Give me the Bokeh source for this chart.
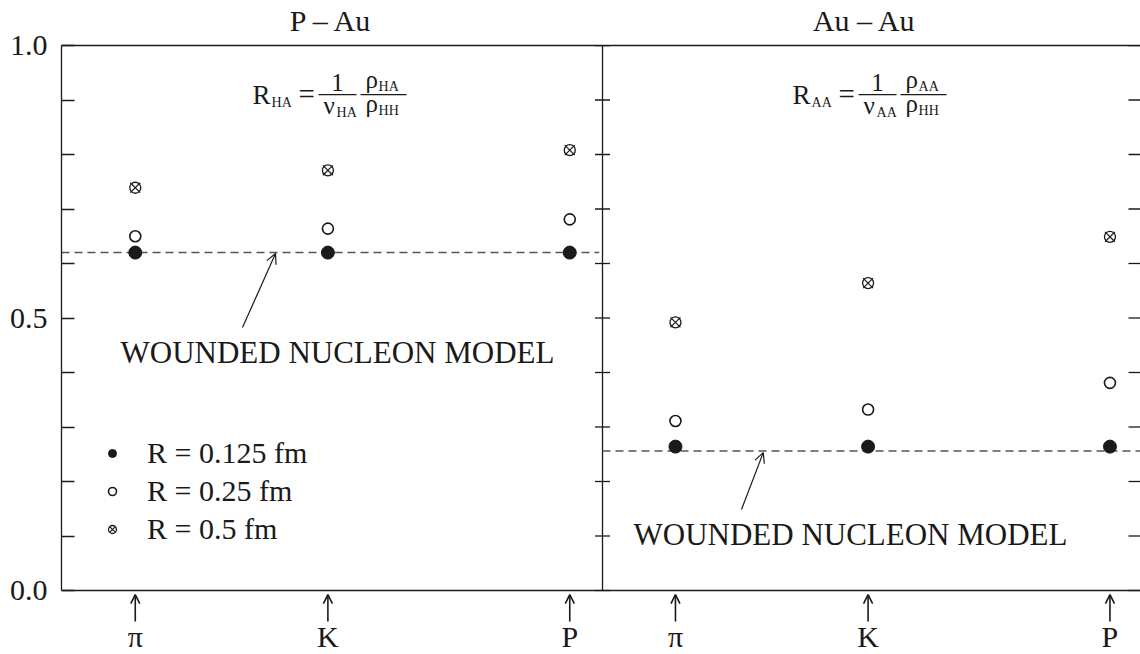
from bokeh.plotting import figure
from bokeh.models import (Range1d, FixedTicker, LabelSet, Arrow, OpenHead, Span,
                          Legend, LegendItem, ColumnDataSource, LinearAxis, PrintfTickFormatter)
from bokeh.embed import file_html
from bokeh.resources import INLINE
from bokeh.core.properties import value

# ---------------- data ----------------
particles = ["π", "K", "P"]
mass_gev = [0.1396, 0.4937, 0.9383]          # x position of each hadron (mass, GeV)

pau_r0125 = [0.620, 0.620, 0.620]
pau_r025 = [0.650, 0.664, 0.681]
pau_r05 = [0.739, 0.771, 0.808]
pau_wounded = 0.620

auau_r0125 = [0.264, 0.264, 0.264]
auau_r025 = [0.311, 0.332, 0.381]
auau_r05 = [0.492, 0.564, 0.649]
auau_wounded = 0.256

panel_titles = ["P – Au", "Au – Au"]
formula_subs = [("HA", "HA", "HA", "HH"), ("AA", "AA", "AA", "HH")]
legend_labels = ["R = 0.125 fm", "R = 0.25 fm", "R = 0.5 fm"]
model_label = "WOUNDED NUCLEON MODEL"
y_major = [0.0, 0.5, 1.0]
y_minor = [0.1, 0.2, 0.3, 0.4, 0.6, 0.7, 0.8, 0.9]

# ---------------- layout ----------------
FONT = "Liberation Serif"
INK = "#1a1a1a"
PX = 544.0                    # pixels per x unit
FH = 545.0                    # pixels per y unit
X0 = 0.004
FRAME_W = 1079
X1 = X0 + FRAME_W / PX
XD = X0 + 541 / PX            # divider between panels
OFF = 0.993                   # shift of the Au-Au panel
YB = -64 / FH                 # room below the axis for the hadron arrows
TITLE_X = [0.50, 1.48]

p = figure(width=1140, height=654, output_backend="svg", toolbar_location=None,
           x_range=Range1d(X0, X1), y_range=Range1d(YB, 1), title=None,
           min_border_left=61, min_border_right=0, min_border_top=45, min_border_bottom=0,
           x_axis_type=None, y_axis_type=None)
p.outline_line_color = None
p.xgrid.visible = False
p.ygrid.visible = False
p.background_fill_color = "white"
p.border_fill_color = "white"

ticker = FixedTicker(ticks=y_major, minor_ticks=y_minor)

left = LinearAxis(ticker=ticker, formatter=PrintfTickFormatter(format="%.1f"), bounds=(0, 1))
left.major_tick_in = 13
left.major_tick_out = 0
left.minor_tick_in = 13
left.minor_tick_out = 0
left.axis_line_color = INK
left.major_tick_line_color = INK
left.minor_tick_line_color = INK
left.axis_line_width = 1.3
left.major_tick_line_width = 1.3
left.minor_tick_line_width = 1.3
left.major_label_text_font = FONT
left.major_label_text_font_size = "30px"
left.major_label_text_color = INK
left.major_label_standoff = 14
p.add_layout(left, "left")

# top border carrying the panel titles
top = LinearAxis(ticker=FixedTicker(ticks=TITLE_X),
                 major_label_overrides={TITLE_X[0]: panel_titles[0], TITLE_X[1]: panel_titles[1]})
top.axis_line_color = INK
top.axis_line_width = 1.3
top.major_tick_out = 0
top.major_tick_in = 0
top.minor_tick_out = 0
top.minor_tick_in = 0
top.major_label_text_font = FONT
top.major_label_text_font_size = "30px"
top.major_label_text_color = INK
top.major_label_standoff = 9
p.add_layout(top, "above")

# bottom border, divider between the panels (ticks on both sides), ticks at the right edge
all_ticks = y_major + y_minor
p.add_layout(Span(location=0, dimension="width", line_color=INK, line_width=1.3))
p.line([XD, XD], [0, 1], line_color=INK, line_width=1.3)
p.scatter(x=[XD] * len(all_ticks), y=all_ticks, marker="dash", size=15, line_color=INK, line_width=1.3)
p.scatter(x=[X1] * len(all_ticks), y=all_ticks, marker="dash", size=24, line_color=INK, line_width=1.3)

# wounded nucleon model lines
p.line([X0, XD - 0.006], [pau_wounded, pau_wounded], line_dash="8 5", line_color="#555555", line_width=1.5)
p.line([XD, X1], [auau_wounded, auau_wounded], line_dash="8 5", line_color="#555555", line_width=1.5)

# data points (both panels)
xs = mass_gev + [m + OFF for m in mass_gev]
src = ColumnDataSource(dict(x=xs,
                            r0125=pau_r0125 + auau_r0125,
                            r025=pau_r025 + auau_r025,
                            r05=pau_r05 + auau_r05))
g1 = p.scatter("x", "r0125", source=src, marker="circle", size=13, fill_color=INK, line_color=INK)
g2 = p.scatter("x", "r025", source=src, marker="circle", size=11, fill_color="white",
               line_color=INK, line_width=1.6)
g3a = p.scatter("x", "r05", source=src, marker="circle", size=11, fill_color="white",
                line_color=INK, line_width=1.3)
g3b = p.scatter("x", "r05", source=src, marker="x", size=14, line_color=INK, line_width=1.2)

legend = Legend(items=[LegendItem(label=legend_labels[0], renderers=[g1]),
                       LegendItem(label=legend_labels[1], renderers=[g2]),
                       LegendItem(label=legend_labels[2], renderers=[g3a, g3b])],
                location=(41, 106), orientation="vertical",
                border_line_color=None, background_fill_alpha=0, padding=0, margin=0,
                glyph_width=20, glyph_height=38, label_height=38, spacing=0,
                label_standoff=25, label_text_font=FONT, label_text_font_size="30px",
                label_text_color=INK)
p.add_layout(legend)

# formulas
YF = 0.910                    # level of the fraction bars


def formula(xa, subs):
    s_r, s_nu, s_num, s_den = subs
    # text, dx (px from start), baseline (px below the bar), font size, alignment
    t = ["R", s_r, "=", "1", "ν", s_nu, "ρ", s_num, "ρ", s_den]
    dx = [0, 19, 46, 85, 71, 84, 113, 126, 113, 126]
    dy = [9, 12, 9, -4, 19, 22, -7, -4, 17, 20]
    fs = ["27px", "14px", "29px", "25px", "25px", "14px", "25px", "14px", "25px", "14px"]
    al = ["left", "left", "left", "center", "left", "left", "left", "left", "left", "left"]
    fsrc = ColumnDataSource(dict(x=[xa + d / PX for d in dx], y=[YF - d / FH for d in dy],
                                 t=t, fs=fs, al=al))
    p.add_layout(LabelSet(x="x", y="y", text="t", source=fsrc, text_font_size="fs", text_align="al",
                          text_baseline="alphabetic", text_font=value(FONT), text_color=INK))
    p.segment(x0=[xa + 66 / PX, xa + 108 / PX], y0=[YF, YF],
              x1=[xa + 104 / PX, xa + 154 / PX], y1=[YF, YF], line_color=INK, line_width=1.2)


formula(0.3552, formula_subs[0])
formula(1.3478, formula_subs[1])

# wounded nucleon model labels with arrows
wsrc = ColumnDataSource(dict(x=[0.1125, 1.0555], y=[0.418, 0.0844], t=[model_label, model_label]))
p.add_layout(LabelSet(x="x", y="y", text="t", source=wsrc, text_align="left", text_baseline="alphabetic",
                      text_font=value(FONT), text_font_size=value("31px"), text_color=INK))
asrc = ColumnDataSource(dict(x0=[0.3367, 1.254], y0=[0.4826, 0.1486], x1=[0.3974, 1.294], y1=[0.6183, 0.253]))
p.add_layout(Arrow(x_start="x0", y_start="y0", x_end="x1", y_end="y1", source=asrc,
                   end=OpenHead(size=10, line_width=1.2, line_color=INK), line_width=1.2, line_color=INK))

# hadron arrows and names below the axis
hsrc = ColumnDataSource(dict(x=xs, y0=[-0.0569] * 6, y1=[-0.0075] * 6, lab=particles * 2,
                             ly=[-0.1028] * 6))
p.add_layout(Arrow(x_start="x", y_start="y0", x_end="x", y_end="y1", source=hsrc,
                   end=OpenHead(size=9, line_width=1.6, line_color=INK), line_width=1.6, line_color=INK))
p.add_layout(LabelSet(x="x", y="ly", text="lab", source=hsrc, text_align="center",
                      text_baseline="alphabetic", text_font=value(FONT), text_font_size=value("30px"),
                      text_color=INK))

open("out.html", "w").write(file_html(p, INLINE))
